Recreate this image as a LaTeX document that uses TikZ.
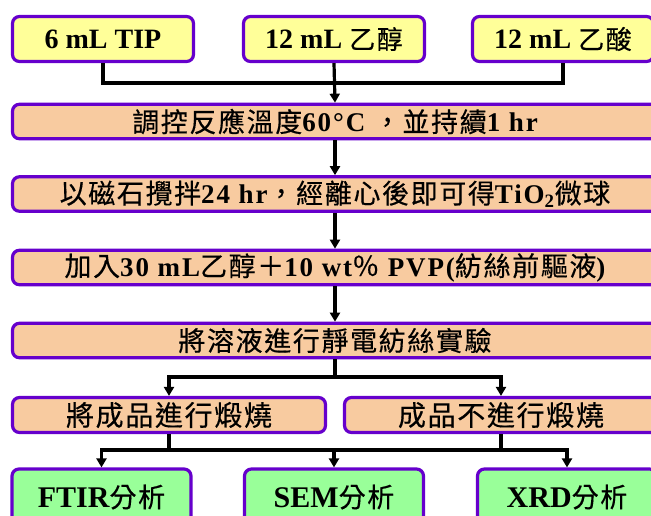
\documentclass[tikz,border=0pt]{standalone}
\usepackage{fontspec}
\setmainfont{Liberation Serif}[BoldFont={Liberation Serif Bold}]
\newfontfamily\lsp{Liberation Serif}[BoldFont={Liberation Serif Bold}, LetterSpace=7]
\newfontfamily\zh{Noto Sans CJK TC}[LetterSpace=6, FakeBold=0.4]
\usetikzlibrary{arrows.meta}
\definecolor{bord}{HTML}{6600CC}
\definecolor{yel}{HTML}{FFFF99}
\definecolor{peach}{HTML}{F8CBA0}
\definecolor{grn}{HTML}{99FF99}
\newcommand{\Z}[2]{{\fontsize{#1}{#1}\zh\mdseries #2}}
\tikzset{
  box/.style={draw=bord, line width=3.2pt, rounded corners=7pt, inner sep=0pt, align=center, font=\bfseries},
  ybox/.style={box, fill=yel, minimum width=181pt, minimum height=45pt, font=\bfseries\fontsize{28}{30}\selectfont},
  lbox/.style={box, fill=peach, minimum width=645pt, minimum height=34.5pt, font=\lsp\bfseries\fontsize{27}{28}\selectfont},
  mbox/.style={box, fill=peach, minimum width=313pt, minimum height=35pt, font=\bfseries\fontsize{26}{28}\selectfont},
  gbox/.style={box, fill=grn, minimum width=179pt, minimum height=56pt, font=\bfseries\fontsize{30}{32}\selectfont},
  conn/.style={line width=3.2pt, black},
  arr/.style={conn, -{Triangle[width=10pt,length=9pt]}}
}
\begin{document}
\begin{tikzpicture}[x=1pt,y=-1pt]
\useasboundingbox (0,0) rectangle (651,515);
\clip (0,0) rectangle (651,515);
\node[ybox] (t1) at (103,39) {6 mL TIP};
\node[ybox] (t2) at (334,39) {12 mL \Z{26}{乙醇}};
\node[ybox] (t3) at (563,39) {12 mL \Z{26}{乙酸}};
\node[lbox] (l1) at (335,121.5) {\Z{27}{調控反應溫度}60°C \Z{27}{，並持續}1 hr};
\node[lbox] (l2) at (335,194) {\Z{27}{以磁石攪拌}24 hr\Z{27}{，經離心後即可得}TiO\textsubscript{2}\Z{27}{微球}};
\node[lbox] (l3) at (335,267.5) {\Z{27}{加入}30 mL\Z{27}{乙醇＋}10 wt\Z{27}{％} PVP(\Z{27}{紡絲前驅液})};
\node[lbox] (l4) at (335,340.5) {\Z{27}{將溶液進行靜電紡絲實驗}};
\node[mbox] (ml) at (169,415) {\Z{28}{將成品進行煅燒}};
\node[mbox] (mr) at (501,415) {\Z{28}{成品不進行煅燒}};
\node[gbox] (g1) at (101.5,497) {FTIR\Z{27}{分析}};
\node[gbox] (g2) at (334,497) {SEM\Z{27}{分析}};
\node[gbox] (g3) at (567,497) {XRD\Z{27}{分析}};
\coordinate (jt) at (334,83);
\coordinate (jm) at (335,377);
\coordinate (jl) at (169,450);
\coordinate (jr) at (501,450);
\draw[conn] (t1.south) |- (jt) -| (t3.south);
\draw[arr] (t2.south) -- (l1.north);
\draw[arr] (l1.south) -- (l2.north);
\draw[arr] (l2.south) -- (l3.north);
\draw[arr] (l3.south) -- (l4.north);
\draw[conn] (l4.south) -- (jm);
\draw[arr] (jm) -| (ml.north);
\draw[arr] (jm) -| (mr.north);
\draw[conn] (ml.south) -- (jl);
\draw[conn] (mr.south) -- (jr);
\draw[conn] (jl) -- (jr);
\draw[arr] (jl) -| (g1.north);
\draw[arr] (jl) -| (g2.north);
\draw[arr] (jr) -| (g3.north);
\end{tikzpicture}
\end{document}
